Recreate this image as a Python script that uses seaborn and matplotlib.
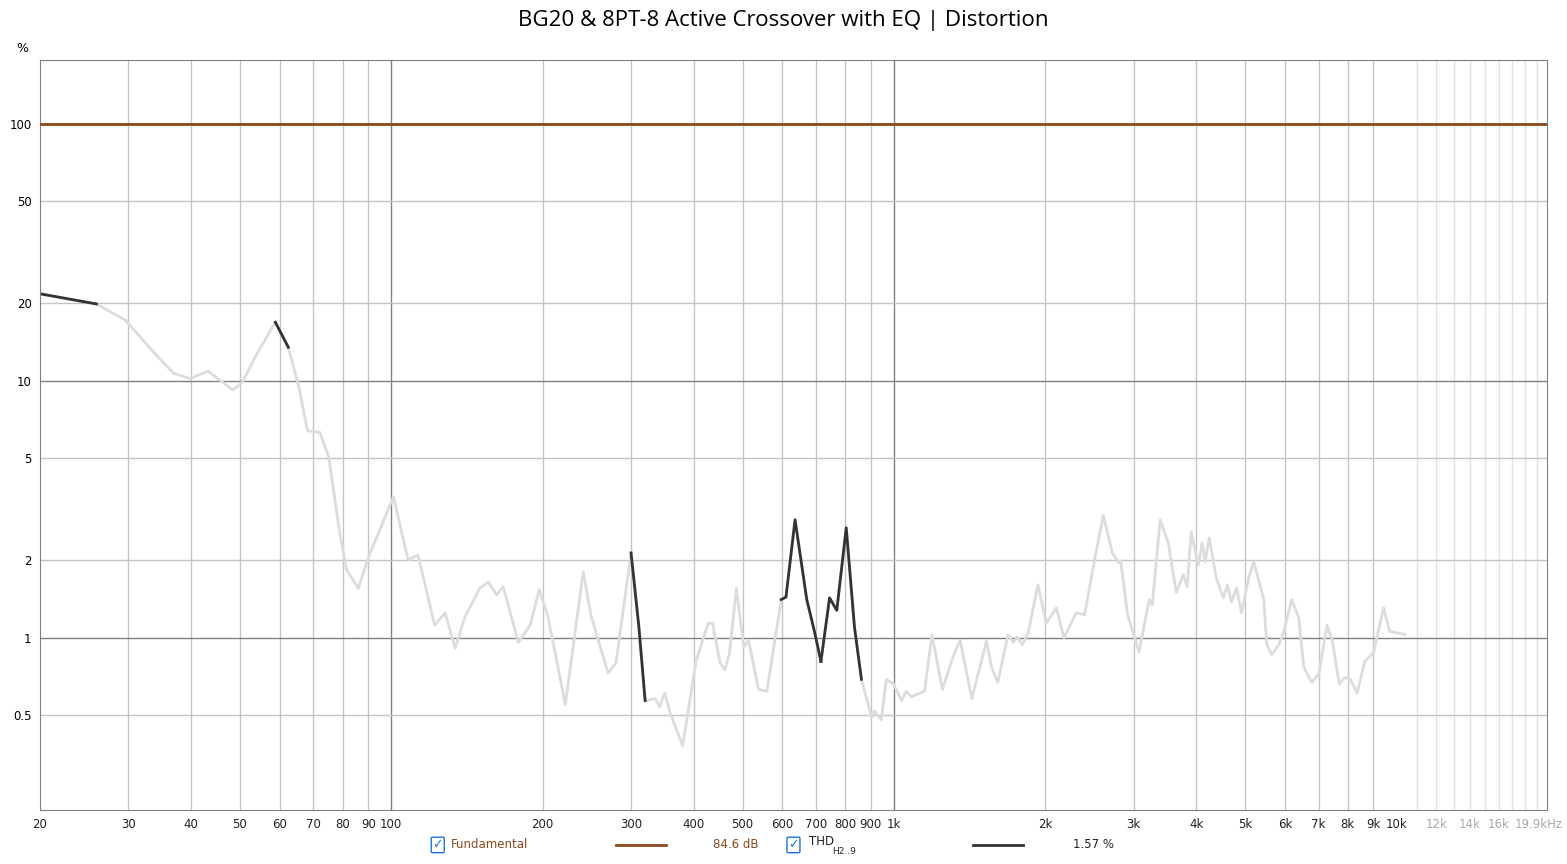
import numpy as np
import pandas as pd
import matplotlib
matplotlib.use("Agg")
import matplotlib.pyplot as plt
import matplotlib.transforms as mtransforms
import seaborn as sns

# THD curve (Hz, %)
freq = [20, 25.9, 29.6, 33.8, 36.9, 39.8, 43.2, 48.4, 50.6, 54.1, 58.8, 62.4, 65.7, 68.1, 72.1,
        75.1, 78.8, 81.5, 86.0, 90.1, 101, 108, 113, 122, 128, 134, 140, 150, 156, 162, 167,
        179, 189, 197, 205, 222, 241, 250, 270, 280, 300, 311, 320, 335, 342, 350, 359, 380,
        404, 427, 436, 451, 461, 471, 486, 503, 514, 538, 559, 597, 610, 636, 671, 695, 716,
        745, 770, 804, 835, 862, 903, 915, 944, 966, 999, 1036, 1058, 1083, 1151, 1191, 1249,
        1311, 1355, 1429, 1529, 1565, 1610, 1688, 1728, 1760, 1801, 1851, 1935, 2010, 2105,
        2180, 2306, 2396, 2514, 2611, 2721, 2800, 2826, 2918, 3075, 3223, 3266, 3389, 3516,
        3648, 3765, 3835, 3905, 4033, 4107, 4164, 4242, 4381, 4525, 4609, 4696, 4807, 4919,
        5081, 5200, 5445, 5521, 5649, 5831, 5965, 6190, 6391, 6540, 6784, 7015, 7275, 7451,
        7697, 7878, 8100, 8348, 8654, 9010, 9427, 9690, 10400]
thd = [21.8, 19.9, 17.2, 12.8, 10.7, 10.2, 10.9, 9.2, 9.9, 12.8, 16.9, 13.5, 9.2, 6.4, 6.3,
       5.05, 2.63, 1.84, 1.56, 2.06, 3.54, 2.01, 2.1, 1.12, 1.25, 0.91, 1.2, 1.56, 1.65, 1.47, 1.58,
       0.96, 1.12, 1.54, 1.21, 0.55, 1.81, 1.21, 0.73, 0.8, 2.14, 1.1, 0.57, 0.58, 0.54, 0.61, 0.51, 0.38,
       0.81, 1.14, 1.14, 0.8, 0.75, 0.87, 1.56, 0.92, 0.98, 0.63, 0.62, 1.41, 1.44, 2.88, 1.41, 1.06, 0.81,
       1.43, 1.28, 2.68, 1.1, 0.69, 0.49, 0.52, 0.48, 0.69, 0.66, 0.57, 0.62, 0.59, 0.62, 1.03, 0.63,
       0.84, 0.98, 0.58, 0.97, 0.77, 0.67, 1.03, 0.96, 1.01, 0.94, 1.05, 1.61, 1.14, 1.31,
       1.0, 1.25, 1.23, 2.06, 3.0, 2.14, 1.96, 2.0, 1.23, 0.88, 1.41, 1.34, 2.88, 2.34,
       1.5, 1.76, 1.58, 2.58, 1.92, 2.34, 1.98, 2.45, 1.71, 1.43, 1.61, 1.38, 1.56, 1.25,
       1.71, 1.98, 1.41, 0.94, 0.86, 0.94, 1.05, 1.41, 1.2, 0.77, 0.67, 0.73, 1.12, 0.98,
       0.66, 0.7, 0.69, 0.61, 0.81, 0.88, 1.31, 1.06, 1.03]

# frequency ranges where the THD trace is drawn dark
dark_ranges = [(20, 26), (54, 56), (58.8, 64), (67, 69), (100, 104), (298, 322),
               (590, 716), (716, 870)]

fund_freq = [20, 19900]
fund_pct = [100, 100]

df = pd.DataFrame({"freq": freq, "thd": thd})

fig = plt.figure(figsize=(15.67, 8.64), dpi=100)
ax = fig.add_axes([0.0255, 0.0625, 0.9615, 0.8681])
ax.set_xscale("log")
ax.set_yscale("log")
ax.set_xlim(20, 19900)
ax.set_ylim(0.214, 177)

# grid
for dec in [10, 100, 1000]:
    for m in range(1, 10):
        f = dec * m
        if 20 < f < 19900:
            major = m == 1
            ax.axvline(f, color="#808080" if major else "#c4c4c4", lw=1.0, zorder=0)
for f in range(11000, 20000, 1000):
    ax.axvline(f, color="#e2e2e2", lw=1.0, zorder=0)
for v in [0.5, 2, 5, 20, 50]:
    ax.axhline(v, color="#c4c4c4", lw=1.0, zorder=0)
for v in [1, 10, 100]:
    ax.axhline(v, color="#808080", lw=1.0, zorder=0)

sns.lineplot(x=fund_freq, y=fund_pct, ax=ax, color="#8b4a1c", lw=2, zorder=3)
sns.lineplot(data=df, x="freq", y="thd", ax=ax, color="#dcdcdc", lw=2, estimator=None, zorder=2)
for lo, hi in dark_ranges:
    seg = df[(df.freq >= lo) & (df.freq <= hi)]
    sns.lineplot(data=seg, x="freq", y="thd", ax=ax, color="#333333", lw=2, estimator=None, zorder=2.5)

xt = [20, 30, 40, 50, 60, 70, 80, 90, 100, 200, 300, 400, 500, 600, 700, 800, 900, 1000,
      2000, 3000, 4000, 5000, 6000, 7000, 8000, 9000, 10000, 12000, 14000, 16000, 19900]
xl = ["20", "30", "40", "50", "60", "70", "80", "90", "100", "200", "300", "400", "500", "600",
      "700", "800", "900", "1k", "2k", "3k", "4k", "5k", "6k", "7k", "8k", "9k", "10k",
      "12k", "14k", "16k", "19.9kHz"]
ax.xaxis.set_minor_locator(matplotlib.ticker.NullLocator())
ax.yaxis.set_minor_locator(matplotlib.ticker.NullLocator())
ax.set_xticks(xt)
ax.set_xticklabels(xl)
ax.tick_params(labelsize=8.5, length=0, pad=6)
for lab, f in zip(ax.get_xticklabels(), xt):
    lab.set_color("#aaaaaa" if f > 10000 else "#222222")
last = ax.get_xticklabels()[-1]
last.set_horizontalalignment("right")
last.set_transform(last.get_transform() + mtransforms.ScaledTranslation(0.16, 0, fig.dpi_scale_trans))
yt = [0.5, 1, 2, 5, 10, 20, 50, 100]
ax.set_yticks(yt)
ax.set_yticklabels(["0.5", "1", "2", "5", "10", "20", "50", "100"])
ax.set_xlabel("")
ax.set_ylabel("")
for s in ax.spines.values():
    s.set_color("#808080")
ax.text(-0.012, 1.01, "%", transform=ax.transAxes, fontsize=9, ha="center")

fig.suptitle("BG20 & 8PT-8 Active Crossover with EQ | Distortion", y=0.988, fontsize=16,
             family="Open Sans")

# legend row
fig.text(0.288, 0.018, "Fundamental", color="#8b4a1c", fontsize=8.5)
fig.lines.append(plt.Line2D([0.393, 0.425], [0.0225, 0.0225], color="#8b4a1c", lw=2,
                            transform=fig.transFigure))
fig.text(0.455, 0.018, "84.6 dB", color="#8b4a1c", fontsize=8.5)
fig.text(0.516, 0.022, "THD", color="#222222", fontsize=8.5)
fig.text(0.531, 0.012, "H2..9", color="#222222", fontsize=6.5)
fig.lines.append(plt.Line2D([0.621, 0.653], [0.0225, 0.0225], color="#333333", lw=2,
                            transform=fig.transFigure))
fig.text(0.685, 0.018, "1.57 %", color="#222222", fontsize=8.5)
for xb in [0.276, 0.503]:
    fig.text(xb, 0.018, "\u2713", color="#1a73d9", fontsize=9, family="DejaVu Sans",
             bbox=dict(boxstyle="round,pad=0.1", fc="white", ec="#1a73d9", lw=1))

fig.savefig("out.png", dpi=100)
